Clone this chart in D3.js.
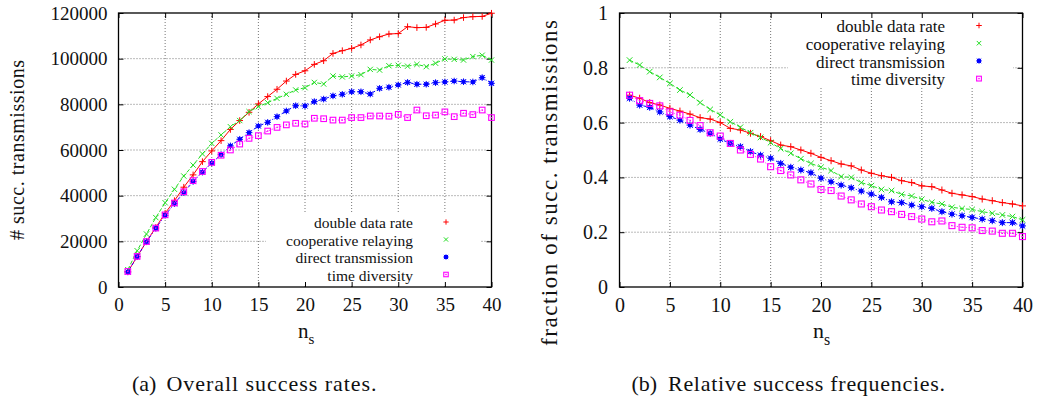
<!DOCTYPE html>
<html>
<head>
<meta charset="utf-8">
<script src="https://cdn.jsdelivr.net/npm/d3@7"></script>
<style>
  html, body { margin: 0; padding: 0; background: #fff; }
  svg { display: block; }
  svg text { font-family: "Liberation Serif", "Times New Roman", Tinos, "DejaVu Serif", serif; fill: #111; }
</style>
</head>
<body>
<svg id="fig" width="1038" height="403"></svg>
<script>
// number of stations n_s
const nStations = [1,2,3,4,5,6,7,8,9,10,11,12,13,14,15,16,17,18,19,20,
                   21,22,23,24,25,26,27,28,29,30,31,32,33,34,35,36,37,38,39,40];

const seriesNames = ["double data rate", "cooperative relaying", "direct transmission", "time diversity"];

// (a) overall number of successful transmissions
const ddrCount = [6700,13300,19900,26100,32300,37800,43700,49100,54900,59600,
                  64100,69000,72900,76500,80200,83400,86600,90200,93100,94700,
                  97500,99100,102300,103500,104500,106000,108200,109600,110800,111000,
                  114000,113600,113700,115200,116800,116900,118000,118400,118500,119900];
const coopCount = [7600,15900,23200,30400,36900,42800,48600,53400,58300,62900,
                   66600,70200,72900,76800,79000,80700,82600,84400,86300,87300,
                   89600,88900,92400,92000,92400,93000,95300,95000,96900,97100,
                   96700,97500,96500,98000,99900,99700,99400,100900,101500,99400];
const directCount = [6600,13300,19800,25700,31400,36500,41300,46200,50300,54300,
                     58000,61800,64700,67600,70500,72100,74600,77100,79400,79300,
                     81200,82300,83700,84400,85500,85500,84500,87000,87500,88500,
                     89600,88800,88800,89500,89800,90200,89900,89800,91700,89200];
const timeDivCount = [6800,13400,19900,25800,31600,36800,41700,46600,50600,54600,
                      57700,60000,62600,65100,66300,68300,69900,71000,71700,71400,
                      73900,73700,73100,73100,74200,74200,74900,74900,74800,75600,
                      74200,77500,75000,75300,76700,74600,76100,75500,77500,74200];

// (b) fraction of successful transmissions
const ddrFrac = [0.700,0.689,0.673,0.664,0.652,0.642,0.631,0.618,0.613,0.600,
                 0.579,0.573,0.561,0.549,0.534,0.518,0.512,0.500,0.488,0.473,
                 0.461,0.449,0.442,0.427,0.415,0.406,0.400,0.388,0.381,0.369,
                 0.366,0.354,0.342,0.336,0.330,0.321,0.315,0.308,0.303,0.296];
const coopFrac = [0.828,0.810,0.786,0.765,0.743,0.719,0.701,0.673,0.648,0.628,
                  0.603,0.583,0.563,0.546,0.527,0.505,0.488,0.468,0.451,0.437,
                  0.425,0.403,0.400,0.381,0.370,0.356,0.352,0.338,0.332,0.320,
                  0.309,0.303,0.291,0.286,0.283,0.275,0.269,0.263,0.257,0.245];
const directFrac = [0.689,0.664,0.656,0.639,0.622,0.609,0.591,0.575,0.561,0.540,
                    0.524,0.512,0.494,0.481,0.470,0.451,0.437,0.427,0.417,0.397,
                    0.384,0.372,0.362,0.350,0.339,0.327,0.311,0.308,0.299,0.293,
                    0.287,0.275,0.266,0.260,0.254,0.248,0.242,0.235,0.235,0.223];
const timeDivFrac = [0.700,0.680,0.670,0.661,0.639,0.627,0.608,0.589,0.563,0.551,
                     0.524,0.500,0.484,0.467,0.439,0.425,0.409,0.391,0.376,0.356,
                     0.352,0.332,0.318,0.303,0.293,0.281,0.275,0.265,0.257,0.248,
                     0.238,0.241,0.224,0.218,0.216,0.206,0.204,0.196,0.196,0.184];

// tick values
const xTicks = [0,5,10,15,20,25,30,35,40];
const countTicks = [0,20000,40000,60000,80000,100000,120000];
const fracTicks = [0,0.2,0.4,0.6,0.8,1];

// line style per series: colour, dash, marker
const styles = [
  { color: "#ff0000", dash: null,      marker: "plus"   },
  { color: "#22dd22", dash: "4,2",     marker: "cross"  },
  { color: "#0000ff", dash: "3,2,1,2", marker: "star"   },
  { color: "#ff00ff", dash: "1,2",     marker: "square" }
];

const FONT = "'Liberation Serif', 'Times New Roman', Tinos, 'DejaVu Serif', serif";

const svg = d3.select("#fig");
svg.append("rect").attr("width", 1038).attr("height", 403).attr("fill", "#fff");

function drawMarker(g, type, x, y, color, s) {
  const m = g.append("g").attr("transform", `translate(${x},${y})`)
    .attr("stroke", color).attr("stroke-width", 1).attr("fill", "none");
  if (type === "plus" || type === "star") {
    m.append("line").attr("x1", -s).attr("x2", s).attr("y1", 0).attr("y2", 0);
    m.append("line").attr("x1", 0).attr("x2", 0).attr("y1", -s).attr("y2", s);
  }
  if (type === "cross" || type === "star") {
    const c = s * 0.8;
    m.append("line").attr("x1", -c).attr("x2", c).attr("y1", -c).attr("y2", c);
    m.append("line").attr("x1", -c).attr("x2", c).attr("y1", c).attr("y2", -c);
  }
  if (type === "star") {
    m.append("rect").attr("x", -2).attr("y", -2).attr("width", 4).attr("height", 4)
      .attr("fill", color).attr("stroke", "none");
  }
  if (type === "square") {
    m.append("rect").attr("x", -s * 0.85).attr("y", -s * 0.85)
      .attr("width", s * 1.7).attr("height", s * 1.7).attr("stroke-width", 1.1);
    m.append("rect").attr("x", -0.7).attr("y", -0.7).attr("width", 1.4).attr("height", 1.4)
      .attr("fill", color).attr("stroke", "none");
  }
}

function panel(cfg) {
  const g = svg.append("g").attr("font-family", FONT);
  const x = d3.scaleLinear().domain([0, 40]).range([cfg.left, cfg.right]);
  const y = d3.scaleLinear().domain(cfg.yDomain).range([cfg.bottom, cfg.top]);

  // grid
  const grid = g.append("g").attr("stroke", "#666").attr("stroke-width", 0.9)
    .attr("stroke-dasharray", "1,2");
  xTicks.slice(1, -1).forEach(t => {
    grid.append("line").attr("x1", x(t)).attr("x2", x(t))
      .attr("y1", cfg.top).attr("y2", cfg.bottom);
  });
  cfg.yTicks.slice(1, -1).forEach(t => {
    grid.append("line").attr("x1", cfg.left).attr("x2", cfg.right)
      .attr("y1", y(t)).attr("y2", y(t));
  });

  // key area keeps the grid clear
  g.append("rect").attr("x", cfg.keyBox[0]).attr("y", cfg.keyBox[1])
    .attr("width", cfg.keyBox[2]).attr("height", cfg.keyBox[3]).attr("fill", "#fff");

  // axes with inward ticks, mirrored on top/right
  const fs = cfg.tickFont;
  const axB = g.append("g").attr("transform", `translate(0,${cfg.bottom})`)
    .call(d3.axisBottom(x).tickValues(xTicks).tickSize(-5).tickPadding(cfg.xPad).tickFormat(d3.format("d")));
  const axL = g.append("g").attr("transform", `translate(${cfg.left},0)`)
    .call(d3.axisLeft(y).tickValues(cfg.yTicks).tickSize(-5).tickPadding(cfg.yPad).tickFormat(cfg.yFormat));
  const axT = g.append("g").attr("transform", `translate(0,${cfg.top})`)
    .call(d3.axisTop(x).tickValues(xTicks).tickSize(-5).tickFormat(""));
  const axR = g.append("g").attr("transform", `translate(${cfg.right},0)`)
    .call(d3.axisRight(y).tickValues(cfg.yTicks).tickSize(-5).tickFormat(""));
  [axB, axL, axT, axR].forEach(a => {
    a.attr("font-family", FONT).attr("font-size", fs);
    a.select(".domain").remove();
    a.selectAll(".tick line").attr("stroke", "#000").attr("stroke-width", 1);
    a.selectAll("text").attr("fill", "#111");
  });
  g.append("rect").attr("x", cfg.left).attr("y", cfg.top)
    .attr("width", cfg.right - cfg.left).attr("height", cfg.bottom - cfg.top)
    .attr("fill", "none").attr("stroke", "#000").attr("stroke-width", 1.3);

  // series
  cfg.series.forEach((vals, i) => {
    const st = styles[i];
    const line = d3.line().x((d, j) => x(nStations[j])).y(d => y(d));
    g.append("path").datum(vals).attr("d", line)
      .attr("fill", "none").attr("stroke", st.color).attr("stroke-width", 1)
      .attr("stroke-dasharray", st.dash);
    vals.forEach((v, j) => drawMarker(g, st.marker, x(nStations[j]), y(v), st.color, cfg.mk));
  });

  // key
  seriesNames.forEach((name, i) => {
    const yy = cfg.keyY + i * cfg.keyStep;
    g.append("text").attr("x", cfg.keyTextX).attr("y", yy).attr("dy", "0.33em")
      .attr("text-anchor", "end").attr("font-size", cfg.keyFont).text(name);
    drawMarker(g, styles[i].marker, cfg.keyMarkX, yy - 1, styles[i].color, cfg.mk * 0.8);
  });

  // y label
  g.append("text")
    .attr("transform", `translate(${cfg.yLabelX},${cfg.yLabelY}) rotate(-90)`)
    .attr("text-anchor", "middle").attr("dy", "0.33em")
    .attr("font-size", cfg.yLabelFont)
    .attr("textLength", cfg.yLabelLen).attr("lengthAdjust", "spacing")
    .text(cfg.yLabel);

  // x label n_s
  const xl = g.append("text").attr("x", cfg.nsX).attr("y", cfg.nsY)
    .attr("font-size", cfg.nsFont);
  xl.append("tspan").text("n");
  xl.append("tspan").attr("dy", cfg.nsFont * 0.3).attr("font-size", cfg.nsFont * 0.72).text("s");

  // caption
  g.append("text").attr("x", cfg.capX).attr("y", cfg.capY)
    .attr("font-size", cfg.capFont).text(cfg.capTag);
  g.append("text").attr("x", cfg.capTextX).attr("y", cfg.capY)
    .attr("font-size", cfg.capFont)
    .attr("textLength", cfg.capLen).attr("lengthAdjust", "spacing")
    .text(cfg.capText);
}

panel({
  left: 118.5, right: 491.5, top: 13, bottom: 287,
  yDomain: [0, 120000], yTicks: countTicks, yFormat: d3.format("d"),
  tickFont: 19, xPad: 11, yPad: 11,
  keyBox: [266, 213, 214, 73],
  series: [ddrCount, coopCount, directCount, timeDivCount],
  mk: 3.3,
  keyY: 223, keyStep: 17.5, keyTextX: 413, keyMarkX: 446, keyFont: 15.5,
  yLabel: "# succ. transmissions", yLabelX: 17, yLabelY: 150, yLabelFont: 20, yLabelLen: 180,
  nsX: 298, nsY: 338, nsFont: 21,
  capTag: "(a)", capX: 132, capTextX: 166.5, capY: 391, capFont: 22,
  capText: "Overall success rates.", capLen: 210
});

panel({
  left: 619.5, right: 1022.5, top: 13, bottom: 287,
  yDomain: [0, 1], yTicks: fracTicks, yFormat: d3.format("~g"),
  tickFont: 20, xPad: 11, yPad: 11.5,
  keyBox: [788, 13, 225, 74],
  series: [ddrFrac, coopFrac, directFrac, timeDivFrac],
  mk: 3.5,
  keyY: 26.5, keyStep: 17.7, keyTextX: 945, keyMarkX: 979, keyFont: 17,
  yLabel: "fraction of succ. transmissions", yLabelX: 549, yLabelY: 183, yLabelFont: 23, yLabelLen: 326,
  nsX: 813, nsY: 338, nsFont: 22,
  capTag: "(b)", capX: 631.5, capTextX: 668, capY: 391, capFont: 22,
  capText: "Relative success frequencies.", capLen: 277
});
</script>
</body>
</html>
